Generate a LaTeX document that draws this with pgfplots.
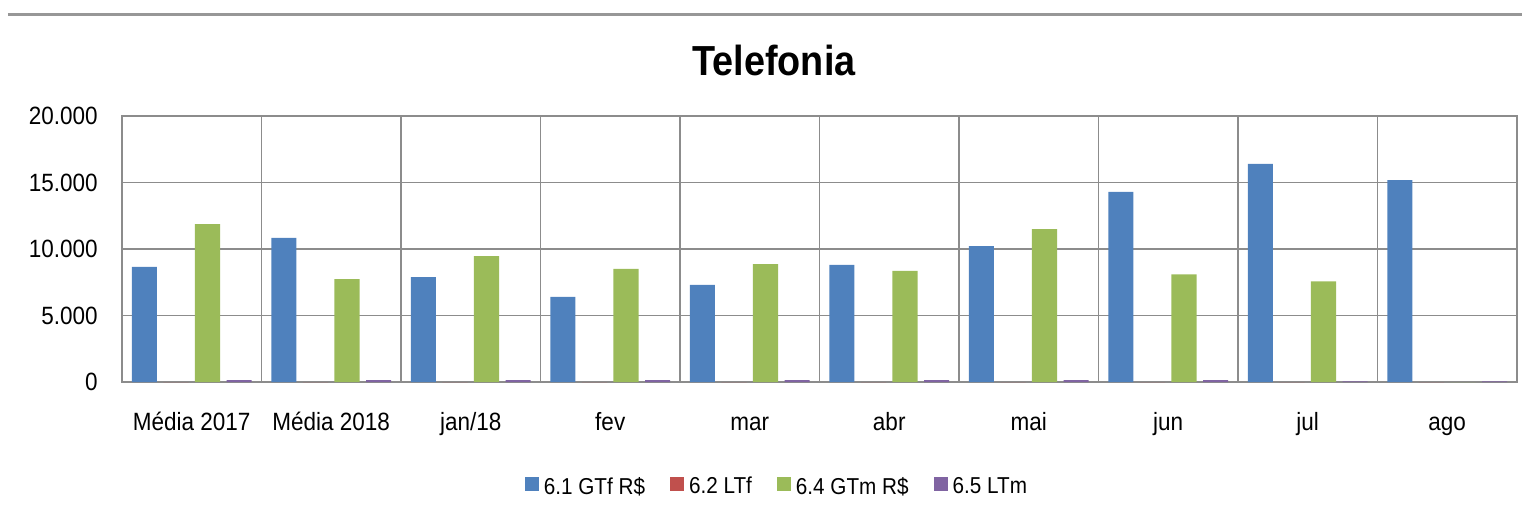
\documentclass[border=0pt]{standalone}
\usepackage{fontspec}
\setmainfont{Liberation Sans}[FakeStretch=0.9]
\usepackage{pgfplots}
\pgfplotsset{compat=1.18}

\definecolor{gtf}{HTML}{4F81BD}
\definecolor{ltf}{HTML}{C0504D}
\definecolor{gtm}{HTML}{9BBB59}
\definecolor{ltm}{HTML}{8064A2}
\definecolor{gridgray}{HTML}{8C8C8C}

\begin{document}
\begin{tikzpicture}
\useasboundingbox (-61pt,-67pt) rectangle (700pt,191pt);
\draw[line width=1.5pt, color=gridgray!90] (-57pt,184pt) -- (700pt,184pt);
\node[anchor=base, font=\bfseries\fontsize{21}{24}\selectfont] at (326pt,153.5pt) {Telefonia};
\begin{axis}[
    at={(0pt,0pt)}, anchor=south west,
    scale only axis,
    width=697.5pt, height=133pt,
    ybar, bar width=0.18,
    xmin=-0.5, xmax=9.5,
    ymin=0, ymax=20000,
    xtick={0,...,9},
    xticklabels={Média 2017, Média 2018, jan/18, fev, mar, abr, mai, jun, jul, ago},
    minor xtick={0.5,1.5,...,8.5},
    ytick={0,5000,...,20000},
    xminorgrids, ymajorgrids,
    grid style={gridgray, line width=0.7pt},
    minor grid style={gridgray, line width=0.7pt},
    axis line style={gridgray, line width=0.8pt},
    major tick length=0pt, minor tick length=0pt,
    tick label style={font=\fontsize{12.5}{15}\selectfont},
    xticklabel style={anchor=base, inner sep=0pt, yshift=-24pt},
    yticklabel style={anchor=east, inner sep=0pt, xshift=-12pt},
    scaled y ticks=false,
    /pgf/number format/1000 sep={.},
    /pgf/number format/assume math mode=true,
    legend columns=4,
    legend image code/.code={\fill[#1, draw=none] (0pt,-2pt) rectangle (7pt,5pt);},
    legend style={at={(0.4706,-0.395)}, anchor=center, draw=none, fill=none,
        font=\fontsize{11.5}{13}\selectfont,
        nodes={inner sep=2.5pt},
        /tikz/every even column/.append style={column sep=10pt}},
]
\addplot[fill=gtf, draw=none, bar shift=-0.34] coordinates {
    (0,8650) (1,10830) (2,7890) (3,6400) (4,7300)
    (5,8800) (6,10220) (7,14290) (8,16410) (9,15170)
};
\addplot[fill=ltf, draw=none, bar shift=-0.113] coordinates {
    (0,0) (1,0) (2,0) (3,0) (4,0)
    (5,0) (6,0) (7,0) (8,0) (9,0)
};
\addplot[fill=gtm, draw=none, bar shift=0.113] coordinates {
    (0,11880) (1,7740) (2,9470) (3,8500) (4,8870)
    (5,8350) (6,11500) (7,8100) (8,7570) (9,0)
};
\addplot[fill=ltm, draw=none, bar shift=0.34] coordinates {
    (0,150) (1,150) (2,150) (3,150) (4,150)
    (5,150) (6,150) (7,150) (8,50) (9,50)
};
\legend{6.1 GTf R\$, 6.2 LTf, 6.4 GTm R\$, 6.5 LTm}
\end{axis}
\end{tikzpicture}
\end{document}
